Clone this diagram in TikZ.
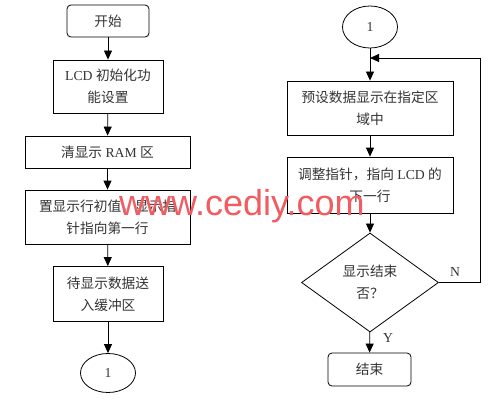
\documentclass[tikz,border=0pt]{standalone}
\usepackage{fontspec}
\setmainfont{Liberation Serif}
\newfontfamily\cjk{Noto Sans CJK SC}
\newfontfamily\wmfont{Liberation Sans}
\usetikzlibrary{shapes.geometric,arrows.meta}
\definecolor{txt}{rgb}{0.2,0.2,0.2}
\definecolor{wm}{rgb}{0.94,0.36,0.38}
\begin{document}
\begin{tikzpicture}[x=1pt,y=-1pt,
  every node/.style={font=\fontsize{13.7}{22}\selectfont, text=txt, align=center, inner sep=0pt},
  procbox/.style={draw, line width=0.8pt, rectangle},
  termbox/.style={draw, line width=0.8pt, rectangle, rounded corners=4pt},
  conn/.style={draw, line width=0.8pt, ellipse},
  decbox/.style={draw, line width=0.8pt, diamond},
  arr/.style={line width=0.8pt, -{Triangle[length=9pt,width=8pt]}},
  ln/.style={line width=0.8pt}]
\useasboundingbox (0,0) rectangle (497,401);
% left column
\node[termbox, minimum width=82pt, minimum height=32pt] (start) at (108,21) {\cjk 开始};
\node[procbox, minimum width=110pt, minimum height=53pt] (init) at (108,86.5) {LCD {\cjk 初始化功}\\{\cjk 能设置}};
\node[procbox, minimum width=165pt, minimum height=32pt] (clr) at (107.5,152) {{\cjk 清显示} RAM {\cjk 区}};
\node[procbox, minimum width=165pt, minimum height=54pt] (row) at (107.5,217) {{\cjk 置显示行初值，显示指}\\{\cjk 针指向第一行}};
\node[procbox, minimum width=110pt, minimum height=55pt] (buf) at (108,294) {{\cjk 待显示数据送}\\{\cjk 入缓冲区}};
\node[conn, minimum width=55pt, minimum height=39pt] (c1) at (108,373) {1};
\draw[arr] (start) -- (init);
\draw[arr] (init) -- (clr);
\draw[arr] (clr) -- (row);
\draw[arr] (row) -- (buf);
\draw[arr] (buf) -- (c1);
% right column
\node[conn, minimum width=55pt, minimum height=42pt] (c2) at (370,27) {1};
\node[procbox, minimum width=166pt, minimum height=54pt] (show) at (370,108) {{\cjk 预设数据显示在指定区}\\{\cjk 域中}};
\node[procbox, minimum width=166pt, minimum height=56pt] (adj) at (370,185) {{\cjk 调整指针，指向} LCD {\cjk 的}\\{\cjk 下一行}};
\node[decbox, minimum width=137pt, minimum height=99pt] (dec) at (370,282.5) {{\cjk 显示结束}\\{\cjk 否？}};
\node[termbox, minimum width=83pt, minimum height=33pt] (end) at (369.5,369.5) {\cjk 结束};
\coordinate (j) at (370,58);
\coordinate (r1) at (480,282.5);
\coordinate (r2) at (480,58);
\draw[arr] (c2) -- (show);
\draw[arr] (show) -- (adj);
\draw[arr] (adj) -- (dec);
\draw[arr] (dec) -- (end);
\draw[ln] (dec.east) -- (r1) -- (r2);
\draw[arr] (r2) -- (j);
\node (nlab) at (455,272) {N};
\node (ylab) at (388,338) {Y};
% watermark
\node[anchor=base west, text=wm, font=\wmfont\fontsize{36}{36}\selectfont] (wmark) at (119,215) {www.cediy.com};
\end{tikzpicture}
\end{document}
